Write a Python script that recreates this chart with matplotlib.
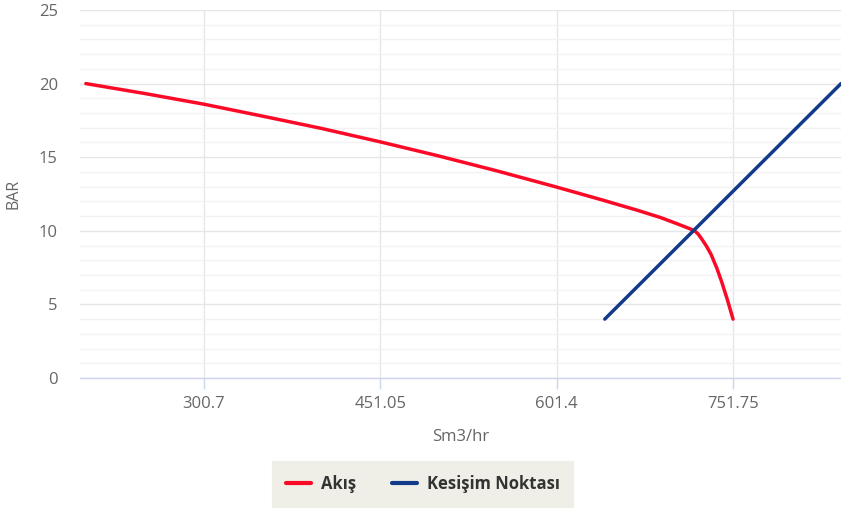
import matplotlib.pyplot as plt
from matplotlib.ticker import MultipleLocator

plt.rcParams['font.family'] = ['Open Sans', 'DejaVu Sans']

# Akış (flow curve)
akis_x = [200, 250, 300.7, 350, 400, 450, 500, 550, 600, 640, 670, 690, 705, 714, 719,
          722, 725, 729, 733, 738, 742, 747, 751.75]
akis_y = [20, 19.33, 18.6, 17.8, 16.97, 16.06, 15.1, 14.08, 13.0, 12.1, 11.4, 10.9, 10.45, 10.17, 10.0,
          9.78, 9.45, 8.97, 8.4, 7.45, 6.55, 5.3, 4.0]

# Kesişim Noktası (straight line)
kes_x = [642.4, 843.8]
kes_y = [4, 20]

xticks = [300.7, 451.05, 601.4, 751.75]
yticks = [0, 5, 10, 15, 20, 25]

fig = plt.figure(figsize=(8.41, 5.09), dpi=100)
ax = fig.add_axes([80/841, 1-378/509, 761/841, 368/509])

ax.plot(akis_x, akis_y, color='#fb0a28', lw=2.5, solid_capstyle='round',
        solid_joinstyle='round', label='Akış', zorder=3)
ax.plot(kes_x, kes_y, color='#123a8a', lw=2.5, solid_capstyle='round', label='Kesişim Noktası', zorder=3)

ax.set_xlim(195, 843.8)
ax.set_ylim(0, 25)
ax.set_xticks(xticks)
ax.set_xticklabels([str(t) for t in xticks])
ax.set_yticks(yticks)
ax.yaxis.set_minor_locator(MultipleLocator(1))

ax.grid(axis='y', which='major', color='#e6e6e6', lw=1)
ax.grid(axis='y', which='minor', color='#f2f2f2', lw=1)
ax.grid(axis='x', which='major', color='#e6e6e6', lw=1)
ax.set_axisbelow(True)

for s in ['top', 'right', 'left']:
    ax.spines[s].set_visible(False)
ax.spines['bottom'].set_color('#ccd6eb')
ax.spines['bottom'].set_linewidth(1)

ax.tick_params(axis='x', colors='#ccd6eb', length=8, width=1, direction='out', pad=5,
               labelcolor='#666666', labelsize=12)
ax.tick_params(axis='y', which='both', length=0, pad=16, labelcolor='#666666', labelsize=12)

ax.set_xlabel('Sm3/hr', color='#666666', fontsize=12, labelpad=12)
ax.set_ylabel('BAR', color='#666666', fontsize=11.5, labelpad=12)

leg = fig.legend(loc='center', bbox_to_anchor=(423/841, 1-484/509), ncol=2,
                 prop={'weight': 'bold', 'size': 12}, handlelength=1.5, handletextpad=0.55,
                 columnspacing=2.2, borderpad=0.75, borderaxespad=0, fancybox=False, framealpha=1)
leg.get_frame().set_facecolor('#efefe7')
leg.get_frame().set_edgecolor('#efefe7')
leg.get_frame().set_linewidth(3)
for t in leg.get_texts():
    t.set_color('#333333')
for h in leg.get_lines():
    h.set_linewidth(3)

fig.savefig('out.png', dpi=100)
